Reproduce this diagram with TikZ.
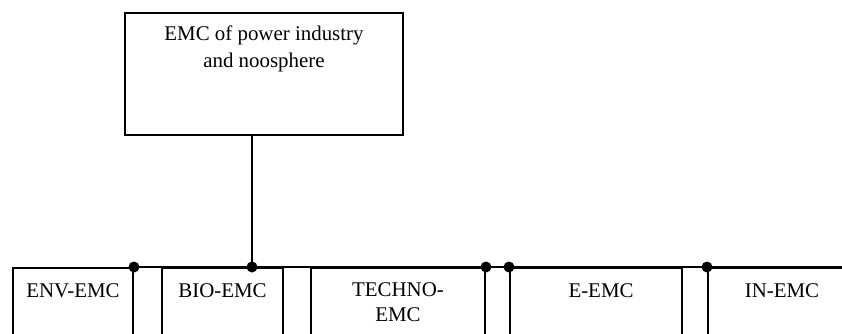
\documentclass[tikz,border=0pt]{standalone}
\usepackage{fontspec}
\setmainfont{Liberation Serif}
\usetikzlibrary{positioning}

\begin{document}
\begin{tikzpicture}
	[x=1pt, y=-1pt, font=\fontsize{20.9}{25}\selectfont,
	 box/.style={draw, line width=2pt, anchor=north west, inner sep=0pt},
	 lbl/.style={inner sep=0pt, align=center},
	 bus/.style={line width=2.6pt},
	 link/.style={line width=1.6pt},
	 dot/.style={circle, fill, inner sep=0pt, minimum size=11pt}]
   \useasboundingbox (0,0) rectangle (842,334);
   \clip (0,0) rectangle (842,334);
   % top block
   \node[box, minimum width=278pt, minimum height=121pt] (top) at (124,12.5) {};
   \node[lbl, below=13pt of top.north, font=\fontsize{20.9}{27}\selectfont] (toptext)
        {EMC of power industry\\and noosphere};
   % lower blocks
   \node[box, minimum width=120pt, minimum height=140pt] (env)    at (12,267)  {};
   \node[box, minimum width=121pt, minimum height=140pt] (bio)    at (161,267) {};
   \node[box, minimum width=174pt, minimum height=140pt] (techno) at (310,267) {};
   \node[box, minimum width=172pt, minimum height=140pt] (eemc)   at (509,267) {};
   \node[box, minimum width=148pt, minimum height=140pt] (inemc)  at (707,267) {};
   \node[lbl, below=16pt of env.north]    (envtext)    {ENV-EMC};
   \node[lbl, below=16pt of bio.north]    (biotext)    {BIO-EMC};
   \node[lbl, below=15pt of techno.north] (technotext) {TECHNO-\\EMC};
   \node[lbl, below=16pt of eemc.north, xshift=5pt] (eemctext) {E-EMC};
   \node[lbl, below=16pt of inemc.north]  (inemctext)  {IN-EMC};
   % junctions
   \node[dot] (j1) at (env.north east)   {};
   \node[dot] (j2) at (252,267)          {};
   \node[dot] (j3) at (techno.north east) {};
   \node[dot] (j4) at (eemc.north west)  {};
   \node[dot] (j5) at (inemc.north west) {};
   % bus and trunk
   \draw[bus] (top.south -| j2) -- (j2.center);
   \draw[bus] (j1.center) -- (j2.center) -- (j3.center);
   \draw[link] (j3.center) -- (j4.center);
   \draw[bus] (j4.center) -- (j5.center) -- (inemc.north east);
\end{tikzpicture}
\end{document}
